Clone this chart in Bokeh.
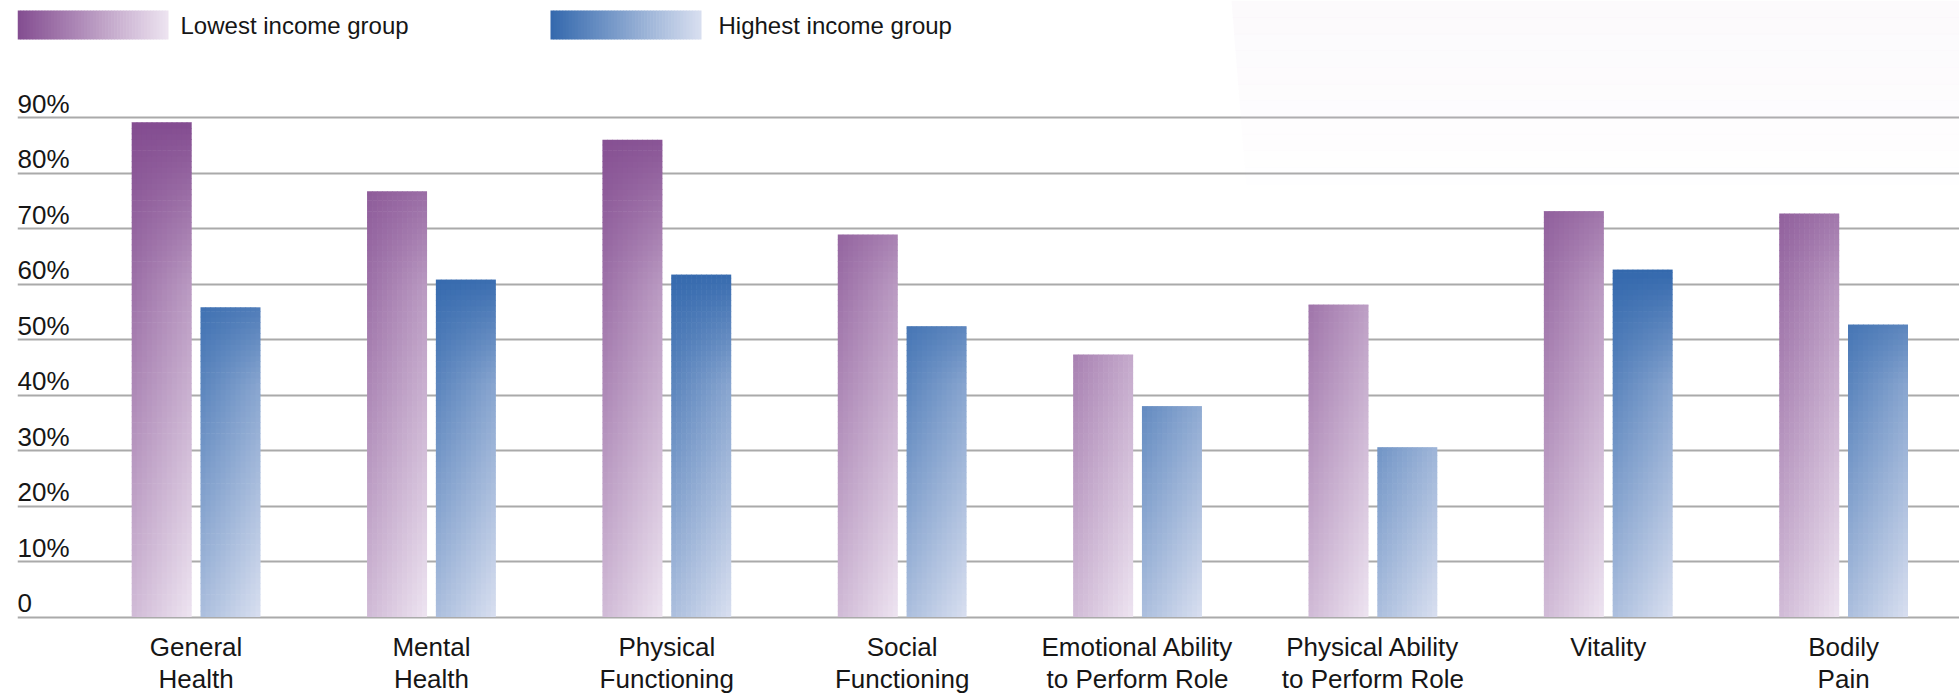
import numpy as np
from bokeh.plotting import figure
from bokeh.models import FixedTicker, Grid, ColumnDataSource
from bokeh.core.properties import value
from bokeh.embed import file_html
from bokeh.resources import INLINE

# ---------------- data ----------------
categories = [
    "General\nHealth",
    "Mental\nHealth",
    "Physical\nFunctioning",
    "Social\nFunctioning",
    "Emotional Ability\nto Perform Role",
    "Physical Ability\nto Perform Role",
    "Vitality",
    "Bodily\nPain",
]
lowest_income = [89.1, 76.7, 86.0, 68.9, 47.3, 56.3, 73.1, 72.7]
highest_income = [55.8, 60.8, 61.7, 52.4, 38.0, 30.6, 62.6, 52.7]
series_names = ["Lowest income group", "Highest income group"]
y_ticks = [0, 10, 20, 30, 40, 50, 60, 70, 80, 90]
y_tick_labels = ["0", "10%", "20%", "30%", "40%", "50%", "60%", "70%", "80%", "90%"]

# ---------------- styling / layout ----------------
W, H = 1959, 695
FRAME_LEFT = 17
ZERO_PX = 616.5
PX_PER_UNIT_Y = 5.55
CENTER0_PX = 195.6
PX_PER_CAT = 235.36

def px2x(px):
    return (px - CENTER0_PX) / PX_PER_CAT

def px2y(py):
    return (ZERO_PX - py) / PX_PER_UNIT_Y

x_start, x_end = px2x(FRAME_LEFT), px2x(W)
y_start, y_end = px2y(H), px2y(0)

FONT = "Liberation Sans"
TEXT_COLOR = "#161616"
GRID_COLOR = "#aaaaaa"

purple_dark, purple_light = (131, 76, 144), (241, 233, 244)
blue_dark, blue_light = (51, 104, 173), (222, 227, 242)

def mix(c1, c2, t):
    t = min(1.0, max(0.0, t))
    return "#%02x%02x%02x" % tuple(int(round(a + (b - a) * t)) for a, b in zip(c1, c2))

bar_w = 60 / PX_PER_CAT
offset = 34.4 / PX_PER_CAT

p = figure(
    width=W, height=H, output_backend="svg", toolbar_location=None,
    x_range=(x_start, x_end), y_range=(y_start, y_end),
    x_axis_location=None, y_axis_location=None,
    min_border_left=FRAME_LEFT, min_border_right=0,
    min_border_top=0, min_border_bottom=0,
)
p.outline_line_color = None
p.background_fill_color = "white"
p.border_fill_color = "white"
for g in p.select(type=Grid):
    g.visible = False

# faint background decoration top right
xs_list, ys_list, alphas = [], [], []
n_fade = 12
for k in range(n_fade):
    y0 = k * 200 / n_fade
    y1 = (k + 1) * 200 / n_fade
    xl0 = 1231 + 16 * y0 / 200
    xl1 = 1231 + 16 * y1 / 200
    xs_list.append([px2x(xl0), px2x(W), px2x(W), px2x(xl1)])
    ys_list.append([px2y(y0), px2y(y0), px2y(y1 + 0.6), px2y(y1 + 0.6)])
    alphas.append(0.15 * (1 - k / n_fade))
p.patches(xs=xs_list, ys=ys_list, fill_color="#e8dcec", fill_alpha=alphas, line_color=None)

# grid
grid = Grid(dimension=1, ticker=FixedTicker(ticks=y_ticks),
            grid_line_color=GRID_COLOR, grid_line_width=2)
p.add_layout(grid)

# gradient bars
L, R, T, B, C = [], [], [], [], []
cols = 12
row = 1.0
ovx = 0.6 / PX_PER_CAT
ovy = 0.6 / PX_PER_UNIT_Y
for vals, off, dark, light in ((lowest_income, -offset, purple_dark, purple_light),
                               (highest_income, offset, blue_dark, blue_light)):
    vmax = max(vals)
    for i, v in enumerate(vals):
        left = i + off - bar_w / 2
        edges = list(np.arange(0.0, v, row)) + [v]
        nrows = len(edges) - 1
        for j in range(nrows):
            y0, y1 = edges[j], edges[j + 1]
            g = 1 - (y0 + y1) / 2 / vmax
            top = y1 + (ovy if j < nrows - 1 else 0.0)
            for k in range(cols):
                xf = (k + 0.5) / cols
                t = 0.7 * g + 0.27 * xf * min(1.0, 3 * g)
                L.append(left + bar_w * k / cols)
                R.append(left + bar_w * (k + 1) / cols + (ovx if k < cols - 1 else 0.0))
                B.append(y0)
                T.append(top)
                C.append(mix(dark, light, t))
src = ColumnDataSource(dict(left=L, right=R, top=T, bottom=B, color=C))
p.quad(left="left", right="right", top="top", bottom="bottom", fill_color="color",
       line_color=None, source=src)

# legend swatches (horizontal gradient)
LL, LR, LT, LB, LC = [], [], [], [], []
n_sw = 50
for x0px, dark, light in ((17, purple_dark, purple_light), (550, blue_dark, blue_light)):
    x1px = x0px + 151
    for k in range(n_sw):
        a = x0px + (x1px - x0px) * k / n_sw
        b = x0px + (x1px - x0px) * (k + 1) / n_sw + (0.6 if k < n_sw - 1 else 0)
        LL.append(px2x(a)); LR.append(px2x(b))
        LT.append(px2y(10)); LB.append(px2y(39))
        LC.append(mix(dark, light, (k + 0.5) / n_sw * 0.97))
p.quad(left=LL, right=LR, top=LT, bottom=LB, fill_color=LC, line_color=None)

p.text(x=[px2x(180), px2x(718)], y=[px2y(25), px2y(25)], text=series_names,
       text_font=value(FONT), text_font_size="24px", text_color=TEXT_COLOR,
       text_baseline="middle", text_align="left")

# y tick labels
p.text(x=[x_start] * len(y_ticks), y=y_ticks, text=y_tick_labels, y_offset=-14,
       text_font=value(FONT), text_font_size="26px", text_color=TEXT_COLOR,
       text_baseline="middle", text_align="left")

# x category labels (placed at category positions 0..n-1 below the zero line)
p.text(x=list(range(len(categories))), y=[0] * len(categories), text=categories,
       y_offset=15,
       text_font=value(FONT), text_font_size="26px", text_color=TEXT_COLOR,
       text_baseline="top", text_align="center", text_line_height=1.06)

open("out.html", "w").write(file_html(p, INLINE))
